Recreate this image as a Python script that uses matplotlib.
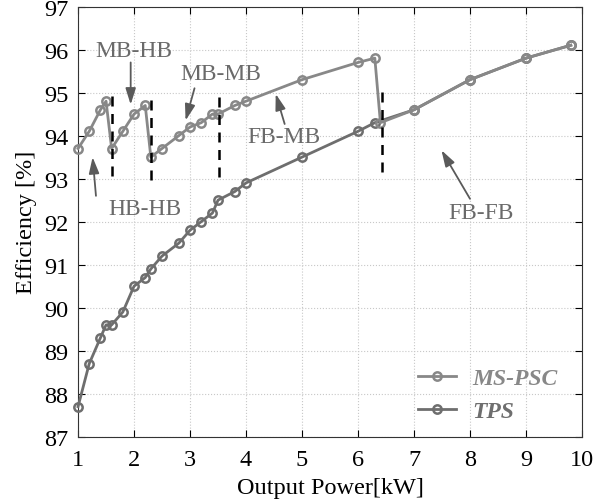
import matplotlib
matplotlib.use('Agg')
import matplotlib.pyplot as plt

plt.rcParams['font.family'] = ['Liberation Serif', 'DejaVu Serif']

# MS-PSC Wirkungsgrad
ms_x = [1.0, 1.2, 1.4, 1.5, 1.6, 1.8, 2.0, 2.2, 2.3, 2.5, 2.8, 3.0, 3.2, 3.4, 3.5,
        3.8, 4.0, 5.0, 6.0, 6.3, 6.4, 7.0, 8.0, 9.0, 9.8]
ms_y = [93.7, 94.1, 94.6, 94.8, 93.7, 94.1, 94.5, 94.7, 93.5, 93.7, 94.0, 94.2, 94.3, 94.5, 94.5,
        94.7, 94.8, 95.3, 95.7, 95.8, 94.3, 94.6, 95.3, 95.8, 96.1]

# TPS Wirkungsgrad
tps_x = [1.0, 1.2, 1.4, 1.5, 1.6, 1.8, 2.0, 2.2, 2.3, 2.5, 2.8, 3.0, 3.2, 3.4, 3.5,
         3.8, 4.0, 5.0, 6.0, 6.3, 7.0, 8.0, 9.0, 9.8]
tps_y = [87.7, 88.7, 89.3, 89.6, 89.6, 89.9, 90.5, 90.7, 90.9, 91.2, 91.5, 91.8, 92.0, 92.2, 92.5,
         92.7, 92.9, 93.5, 94.1, 94.3, 94.6, 95.3, 95.8, 96.1]

# Umschaltpunkte (gestrichelte Linien)
switch_x = [1.61, 2.31, 3.51, 6.43]
switch_lo = [93.07, 92.96, 93.04, 93.15]
switch_hi = [94.95, 95.0, 94.92, 95.05]

# Beschriftungen: Text, Textposition, Pfeil von -> nach
labels = ['MB-HB', 'MB-MB', 'HB-HB', 'FB-MB', 'FB-FB']
label_xy = [(2.0, 95.97), (3.55, 95.45), (2.2, 92.3), (4.67, 93.98), (8.2, 92.22)]
arrow_from = [(1.94, 95.7), (3.08, 95.1), (1.32, 92.6), (4.69, 94.27), (8.0, 92.53)]
arrow_to = [(1.94, 94.72), (2.92, 94.35), (1.26, 93.5), (4.53, 94.97), (7.49, 93.66)]

c_ms = '#888888'
c_tps = '#6e6e6e'

fig = plt.figure(figsize=(6.05, 5.02), dpi=100)
ax = fig.add_axes([0.129, 0.128, 0.833, 0.857])

ax.plot(tps_x, tps_y, '-o', color=c_tps, lw=2, ms=6, mfc='none', mew=1.8,
        label='TPS', zorder=3, clip_on=False)
ax.plot(ms_x, ms_y, '-o', color=c_ms, lw=2, ms=6, mfc='none', mew=1.8,
        label='MS-PSC', zorder=4, clip_on=False)

for x, lo, hi in zip(switch_x, switch_lo, switch_hi):
    ax.plot([x, x], [lo, hi], '--', color='black', lw=1.8, dashes=(4, 3), zorder=5)

for txt, pos, a, b in zip(labels, label_xy, arrow_from, arrow_to):
    ax.text(pos[0], pos[1], txt, ha='center', va='center', fontsize=17, color='#6a6a6a')
    ax.annotate('', xy=b, xytext=a,
                arrowprops=dict(arrowstyle='-|>,head_length=0.7,head_width=0.22',
                                color='#5a5a5a', lw=1.3, mutation_scale=14,
                                shrinkA=0, shrinkB=0))

ax.set_xlim(1, 10)
ax.set_ylim(87, 97)
ax.set_xticks(range(1, 11))
ax.set_yticks(range(87, 98))
ax.grid(True, linestyle=':', color='#c8c8c8', lw=0.8)
ax.tick_params(direction='in', top=True, right=True, labelsize=17.5, length=5, pad=7)
ax.tick_params(axis='x', pad=9)
for s in ax.spines.values():
    s.set_color('#333333')

ax.set_xlabel('Output Power[kW]', fontsize=17.5, labelpad=5)
ax.set_ylabel('Efficiency [%]', fontsize=17.5, labelpad=5)

h, l = ax.get_legend_handles_labels()
ax.legend(h[::-1], l[::-1], loc='lower right', bbox_to_anchor=(0.985, -0.005),
          frameon=False, labelcolor='linecolor',
          prop={'style': 'italic', 'weight': 'bold', 'size': 17}, handlelength=1.6,
          handletextpad=0.7, borderaxespad=0.3, labelspacing=0.5)

fig.savefig('out.png', dpi=100)
